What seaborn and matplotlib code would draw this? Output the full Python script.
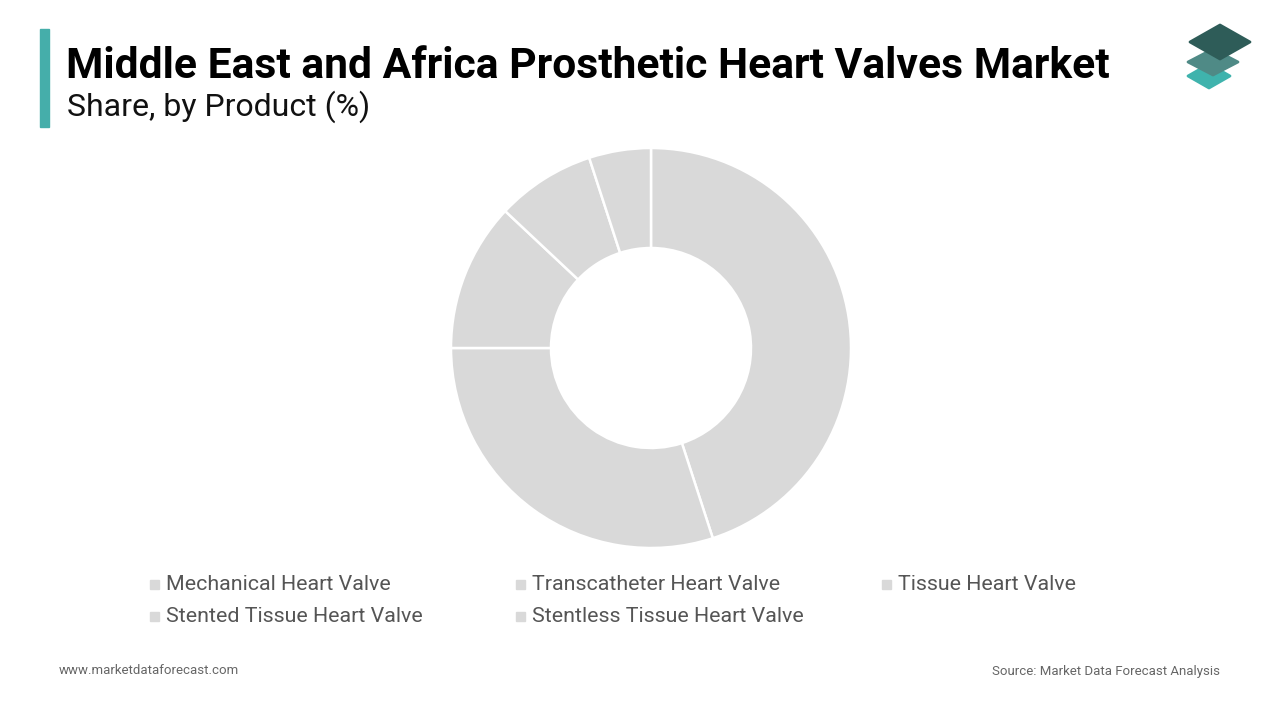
import matplotlib
matplotlib.use("Agg")
import matplotlib.pyplot as plt
import seaborn as sns
from matplotlib.patches import Rectangle, Polygon

# data (share by product, %)
products = [
    "Mechanical Heart Valve",
    "Transcatheter Heart Valve",
    "Tissue Heart Valve",
    "Stented Tissue Heart Valve",
    "Stentless Tissue Heart Valve",
]
shares = [45, 30, 12, 8, 5]

title = "Middle East and Africa Prosthetic Heart Valves Market"
subtitle = "Share, by Product (%)"
site = "www.marketdataforecast.com"
source = "Source: Market Data Forecast Analysis"

slice_color = "#d9d9d9"

sns.set_theme(style="white")
plt.rcParams["font.family"] = ["Roboto", "DejaVu Sans"]

W, H = 1280, 720
fig = plt.figure(figsize=(W / 100, H / 100), dpi=100)
fig.patch.set_facecolor("white")


def fx(px):
    return px / W


def fy(py):
    return 1 - py / H


# donut, centre (651, 348), radius 200 px
ax = fig.add_axes([fx(451), fy(548), 400 / W, 400 / H])
palette = [slice_color] * len(shares)
ax.pie(shares, colors=palette, startangle=90, counterclock=False,
       radius=1.0, wedgeprops=dict(width=0.5, edgecolor="white", linewidth=1.8))
ax.set_aspect("equal")
ax.set_xlim(-1.0, 1.0)
ax.set_ylim(-1.0, 1.0)
ax.axis("off")

# accent bar and titles
fig.patches.append(Rectangle((fx(40), fy(127)), 9 / W, 98 / H, transform=fig.transFigure,
                             color="#45aeaa", zorder=3))
fig.text(fx(66), fy(66), title, fontsize=30.7, fontweight="bold", color="#000000", va="center")
fig.text(fx(67), fy(107), subtitle, fontsize=23, color="#111111", va="center")

# logo: three stacked diamonds
def diamond(cx, cy, w, h, color):
    pts = [(fx(cx - w), fy(cy)), (fx(cx), fy(cy - h)), (fx(cx + w), fy(cy)), (fx(cx), fy(cy + h))]
    fig.patches.append(Polygon(pts, closed=True, transform=fig.transFigure, color=color,
                               zorder=3, joinstyle="round", linewidth=2))

diamond(1209, 76, 21, 12, "#3fb3ad")
diamond(1213, 62, 25, 13, "#4f8a86")
diamond(1220, 42, 30, 17, "#2e5c58")

# legend, row-wise
col_x = [150, 516, 882]
row_y = [584, 616]
for i, name in enumerate(products):
    x = col_x[i % 3]
    y = row_y[i // 3]
    fig.patches.append(Rectangle((fx(x), fy(y + 5)), 9 / W, 9 / H, transform=fig.transFigure,
                                 color=slice_color, zorder=3))
    fig.text(fx(x + 16), fy(y + 1), name, fontsize=15.4, color="#555555", va="center")

# footer
fig.text(fx(59), fy(671), site, fontsize=9.5, color="#666666", va="center")
fig.text(fx(1220), fy(671), source, fontsize=9.5, color="#666666", va="center", ha="right")

fig.savefig("out.png", dpi=100, facecolor="white")
